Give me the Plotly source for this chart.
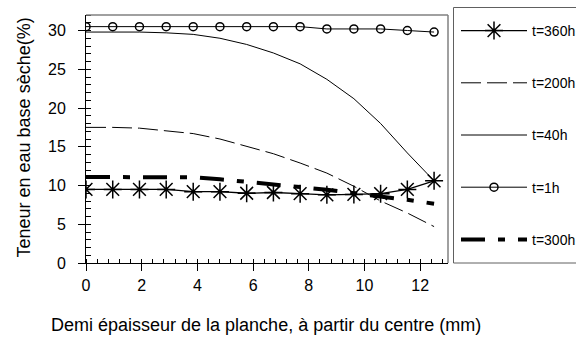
import plotly.graph_objects as go

# ---- data ----
x_mm = [0, 0.96, 1.92, 2.88, 3.85, 4.81, 5.77, 6.73, 7.69, 8.65, 9.62, 10.58, 11.54, 12.5]
t360 = [9.5, 9.5, 9.5, 9.5, 9.2, 9.2, 9.0, 9.1, 8.95, 8.8, 8.85, 8.95, 9.5, 10.6]
t200 = [17.5, 17.5, 17.4, 17.1, 16.7, 16.0, 15.1, 14.1, 12.9, 11.6, 9.9, 8.0, 6.45, 4.7]
t40 = [29.8, 29.8, 29.8, 29.7, 29.5, 29.0, 28.2, 27.1, 25.7, 23.7, 21.2, 18.0, 14.2, 10.6]
t1 = [30.5, 30.5, 30.5, 30.5, 30.5, 30.5, 30.5, 30.5, 30.5, 30.2, 30.2, 30.2, 30.0, 29.8]
t300 = [11.1, 11.1, 11.1, 11.1, 11.05, 10.8, 10.5, 10.1, 9.8, 9.45, 9.05, 8.6, 8.15, 7.65]

x_ticks = [0, 2, 4, 6, 8, 10, 12]
y_ticks = [0, 5, 10, 15, 20, 25, 30]

FONT = "Liberation Sans, Arial, sans-serif"

fig = go.Figure()
fig.add_trace(go.Scatter(x=x_mm, y=t360, name="t=360h", mode="lines+markers", legendgroup="a",
                         line=dict(color="black", width=1.3),
                         marker=dict(symbol="asterisk-open", size=15, color="black",
                                     line=dict(color="black", width=1.5))))
fig.add_trace(go.Scatter(x=x_mm, y=t200, name="t=200h", mode="lines", legendgroup="b",
                         line=dict(color="black", width=1, dash="20px,6px")))
fig.add_trace(go.Scatter(x=x_mm, y=t40, name="t=40h", mode="lines", legendgroup="c",
                         line=dict(color="black", width=1)))
fig.add_trace(go.Scatter(x=x_mm, y=t1, name="t=1h", mode="lines+markers", legendgroup="d",
                         line=dict(color="black", width=1),
                         marker=dict(symbol="circle-open", size=8, color="black",
                                     line=dict(color="black", width=1.5))))
fig.add_trace(go.Scatter(x=x_mm, y=t300, name="t=300h", mode="lines", legendgroup="e",
                         line=dict(color="black", width=4, dash="24px,13px,7px,13px")))

L, R, T, B = 86, 448, 15, 263
W, H = R - L, B - T
FIG_W, FIG_H = 576, 342


def px_x(p):
    return (p - L) / W


def px_y(p):
    return (B - p) / H


fig.update_layout(
    width=FIG_W, height=FIG_H,
    margin=dict(l=L, r=FIG_W - R, t=T, b=FIG_H - B, autoexpand=False),
    paper_bgcolor="white", plot_bgcolor="white",
    font=dict(family=FONT, color="black", size=16),
    showlegend=True,
    legend=dict(x=px_x(456), y=1, xanchor="left", yanchor="top",
                bgcolor="rgba(0,0,0,0)", borderwidth=0,
                font=dict(family=FONT, size=14, color="black"),
                itemwidth=66, tracegroupgap=31),
    xaxis=dict(range=[0, 13], tickvals=x_ticks, showgrid=False, zeroline=False,
               showline=True, linecolor="black", linewidth=1,
               ticks="outside", ticklen=7, tickcolor="black", tickwidth=1,
               ticklabelstandoff=1,
               tickfont=dict(family=FONT, size=16),
               minor=dict(dtick=0.4, ticks="inside", ticklen=4, tickcolor="black", tickwidth=1)),
    yaxis=dict(range=[0, 32], tickvals=y_ticks, showgrid=False, zeroline=False,
               showline=True, linecolor="black", linewidth=1,
               ticks="outside", ticklen=7, tickcolor="black", tickwidth=1,
               ticklabelstandoff=9,
               tickfont=dict(family=FONT, size=16),
               minor=dict(dtick=1, ticks="inside", ticklen=5, tickcolor="black", tickwidth=1)),
    shapes=[
        # top and right frame of plot area
        dict(type="line", xref="paper", yref="paper", x0=0, x1=1, y0=1, y1=1,
             line=dict(color="#808080", width=1.5)),
        dict(type="line", xref="paper", yref="paper", x0=1, x1=1, y0=0, y1=1,
             line=dict(color="#808080", width=1.5)),
        # legend box
        dict(type="rect", xref="paper", yref="paper", x0=px_x(453.5), x1=px_x(590),
             y0=px_y(263), y1=px_y(7.5), line=dict(color="#606060", width=1)),
    ],
    annotations=[
        dict(text="Demi épaisseur de la planche, à partir du centre (mm)", xref="paper", yref="paper",
             x=px_x(265.5), y=px_y(325), xanchor="center", yanchor="middle", showarrow=False,
             font=dict(family=FONT, size=18)),
        dict(text="Teneur en eau base sèche(%)", xref="paper", yref="paper",
             x=px_x(23), y=px_y(137.5), xanchor="center", yanchor="middle", showarrow=False,
             textangle=-90, font=dict(family=FONT, size=18)),
    ],
)

fig.write_html("out.html")
